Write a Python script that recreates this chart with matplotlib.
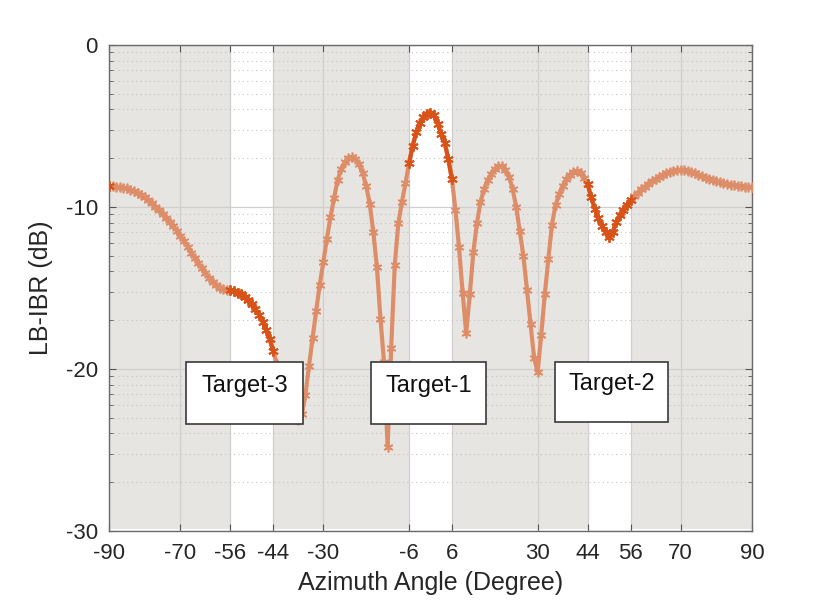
import matplotlib
matplotlib.use('Agg')
import matplotlib.pyplot as plt
from matplotlib.patches import Rectangle
import numpy as np

plt.rcParams.update({
    'font.family': ['Liberation Sans', 'DejaVu Sans'],
    'axes.unicode_minus': False,
})

# ── data: LB-IBR beam pattern, sampled every 1 degree ──
angles = np.arange(-90, 91)
lb_ibr = [
    -8.70, -8.72, -8.74, -8.77, -8.81, -8.86, -8.93, -9.02, -9.13, -9.26,    # -90..-81
    -9.41, -9.58, -9.77, -9.98, -10.20, -10.43, -10.67, -10.92, -11.18, -11.46,  # -80..-71
    -11.78, -12.12, -12.47, -12.82, -13.15, -13.47, -13.78, -14.08, -14.36, -14.62,  # -70..-61
    -14.84, -14.99, -15.08, -15.12, -15.15, -15.20, -15.28, -15.40, -15.56, -15.76,  # -60..-51
    -16.00, -16.30, -16.65, -17.07, -17.57, -18.18, -18.90, -19.70, -20.55, -21.40,  # -50..-41
    -22.15, -22.75, -23.10, -23.15, -22.80, -21.60, -19.80, -18.10, -16.40, -14.80,  # -40..-31
    -13.40, -11.95, -10.65, -9.45, -8.35, -7.65, -7.25, -7.00, -6.92, -7.02,     # -30..-21
    -7.35, -7.90, -8.70, -9.80, -11.55, -13.70, -16.90, -19.60, -24.80, -18.70,  # -20..-11
    -13.60, -11.00, -9.70, -8.55, -7.30, -6.25, -5.40, -4.80, -4.45, -4.25,      # -10..-1
    -4.20,                                                                        # 0
    -4.35, -4.85, -5.50, -6.05, -7.05, -8.30, -10.20, -12.50, -15.30, -17.80,    # 1..10
    -15.40, -12.80, -11.00, -9.70, -8.90, -8.35, -7.95, -7.65, -7.50, -7.50,     # 11..20
    -7.70, -8.15, -8.90, -10.00, -11.50, -13.00, -15.10, -17.20, -19.30, -20.20,  # 21..30
    -17.90, -15.40, -13.20, -11.10, -9.90, -9.20, -8.70, -8.30, -8.00, -7.85,    # 31..40
    -7.80, -7.90, -8.20, -8.60, -9.40, -10.10, -10.70, -11.15, -11.55, -11.85,   # 41..50
    -11.55, -10.95, -10.50, -10.20, -9.90, -9.60, -9.35, -9.12, -8.92, -8.74,    # 51..60
    -8.57, -8.42, -8.28, -8.15, -8.03, -7.93, -7.84, -7.77, -7.72, -7.70,        # 61..70
    -7.72, -7.77, -7.84, -7.92, -8.01, -8.10, -8.19, -8.27, -8.35, -8.42,        # 71..80
    -8.48, -8.53, -8.58, -8.62, -8.66, -8.69, -8.72, -8.74, -8.75, -8.76,        # 81..90
]

# target sectors (white bands, highlighted curve)
TARGET_BANDS = [(-56, -44), (-6, 6), (44, 56)]
TARGET_NAMES = ['Target-3', 'Target-1', 'Target-2']
X_TICKS = [-90, -70, -56, -44, -30, -6, 6, 30, 44, 56, 70, 90]
Y_TICKS = [-30, -20, -10, 0]

LIGHT = '#DE8D69'
DARK = '#D95319'
BG_GRAY = '#E6E5E1'

y = np.array(lb_ibr)
mask = np.zeros_like(y, dtype=bool)
for lo, hi in TARGET_BANDS:
    mask |= (angles >= lo) & (angles <= hi)
mask[0] = True
y_hi = np.where(mask, y, np.nan)

fig = plt.figure(figsize=(8.30, 6.01), dpi=100)
ax = fig.add_axes([0.1313, 0.1165, 0.7747, 0.8087])

# ── gray sectors outside the targets ──
edges = [-90] + [v for band in TARGET_BANDS for v in band] + [90]
for lo, hi in zip(edges[0::2], edges[1::2]):
    ax.axvspan(lo, hi, ymin=0.004, ymax=1, color=BG_GRAY, lw=0, zorder=0)

# ── curve ──
asterisk = (6, 2, 0)
ax.plot(angles, y, color=LIGHT, lw=3.0, marker=asterisk, markersize=7,
        markeredgewidth=1.2, zorder=3)
ax.plot(angles, y_hi, color=DARK, lw=3.0, marker=asterisk, markersize=7.5,
        markeredgewidth=1.3, zorder=4)

# ── axes / grid ──
ax.set_xlim(-90, 90)
ax.set_ylim(-30, 0)
ax.set_xticks(X_TICKS)
ax.set_yticks(Y_TICKS)
minor = [d + 10 * np.log10(k) for d in (-30, -20, -10) for k in range(2, 10)]
ax.set_yticks(minor, minor=True)
ax.set_axisbelow(True)
ax.grid(True, which='major', color='#CFCFCF', lw=0.9, ls='-')
ax.grid(True, which='minor', axis='y', color='#C4C4C4', lw=0.8, ls=(0, (1, 3)))

ax.tick_params(which='both', direction='in', top=True, right=True,
               colors='#555555', labelcolor='#262626')
ax.tick_params(which='major', length=5, width=0.8, labelsize=16)
ax.tick_params(axis='x', which='major', pad=9)
ax.tick_params(axis='y', which='major', pad=8)
ax.tick_params(which='minor', length=3, width=0.6)
ax.tick_params(axis='x', which='minor', top=False, bottom=False)
for sp in ax.spines.values():
    sp.set_color('#6A6A6A')
    sp.set_linewidth(1.0)

ax.set_xlabel('Azimuth Angle (Degree)', fontsize=18, color='#262626', labelpad=5)
ax.set_ylabel('LB-IBR (dB)', fontsize=18, color='#262626', labelpad=9)

# ── target label boxes ──
BOX_X = [(-68.4, -35.6), (-16.6, 15.5), (34.9, 66.5)]
BOX_Y = [(-23.4, -19.55), (-23.4, -19.55), (-23.3, -19.55)]
TEXT_Y = [-21.05, -21.05, -20.95]
for name, (x0, x1), (y0, y1), ty in zip(TARGET_NAMES, BOX_X, BOX_Y, TEXT_Y):
    ax.add_patch(Rectangle((x0, y0), x1 - x0, y1 - y0, facecolor='white',
                           edgecolor='#3A3A3A', lw=1.2, zorder=6))
    ax.text((x0 + x1) / 2, ty, name, ha='center', va='center', fontsize=17,
            color='#111111', zorder=7)

fig.savefig('out.png', dpi=100)
